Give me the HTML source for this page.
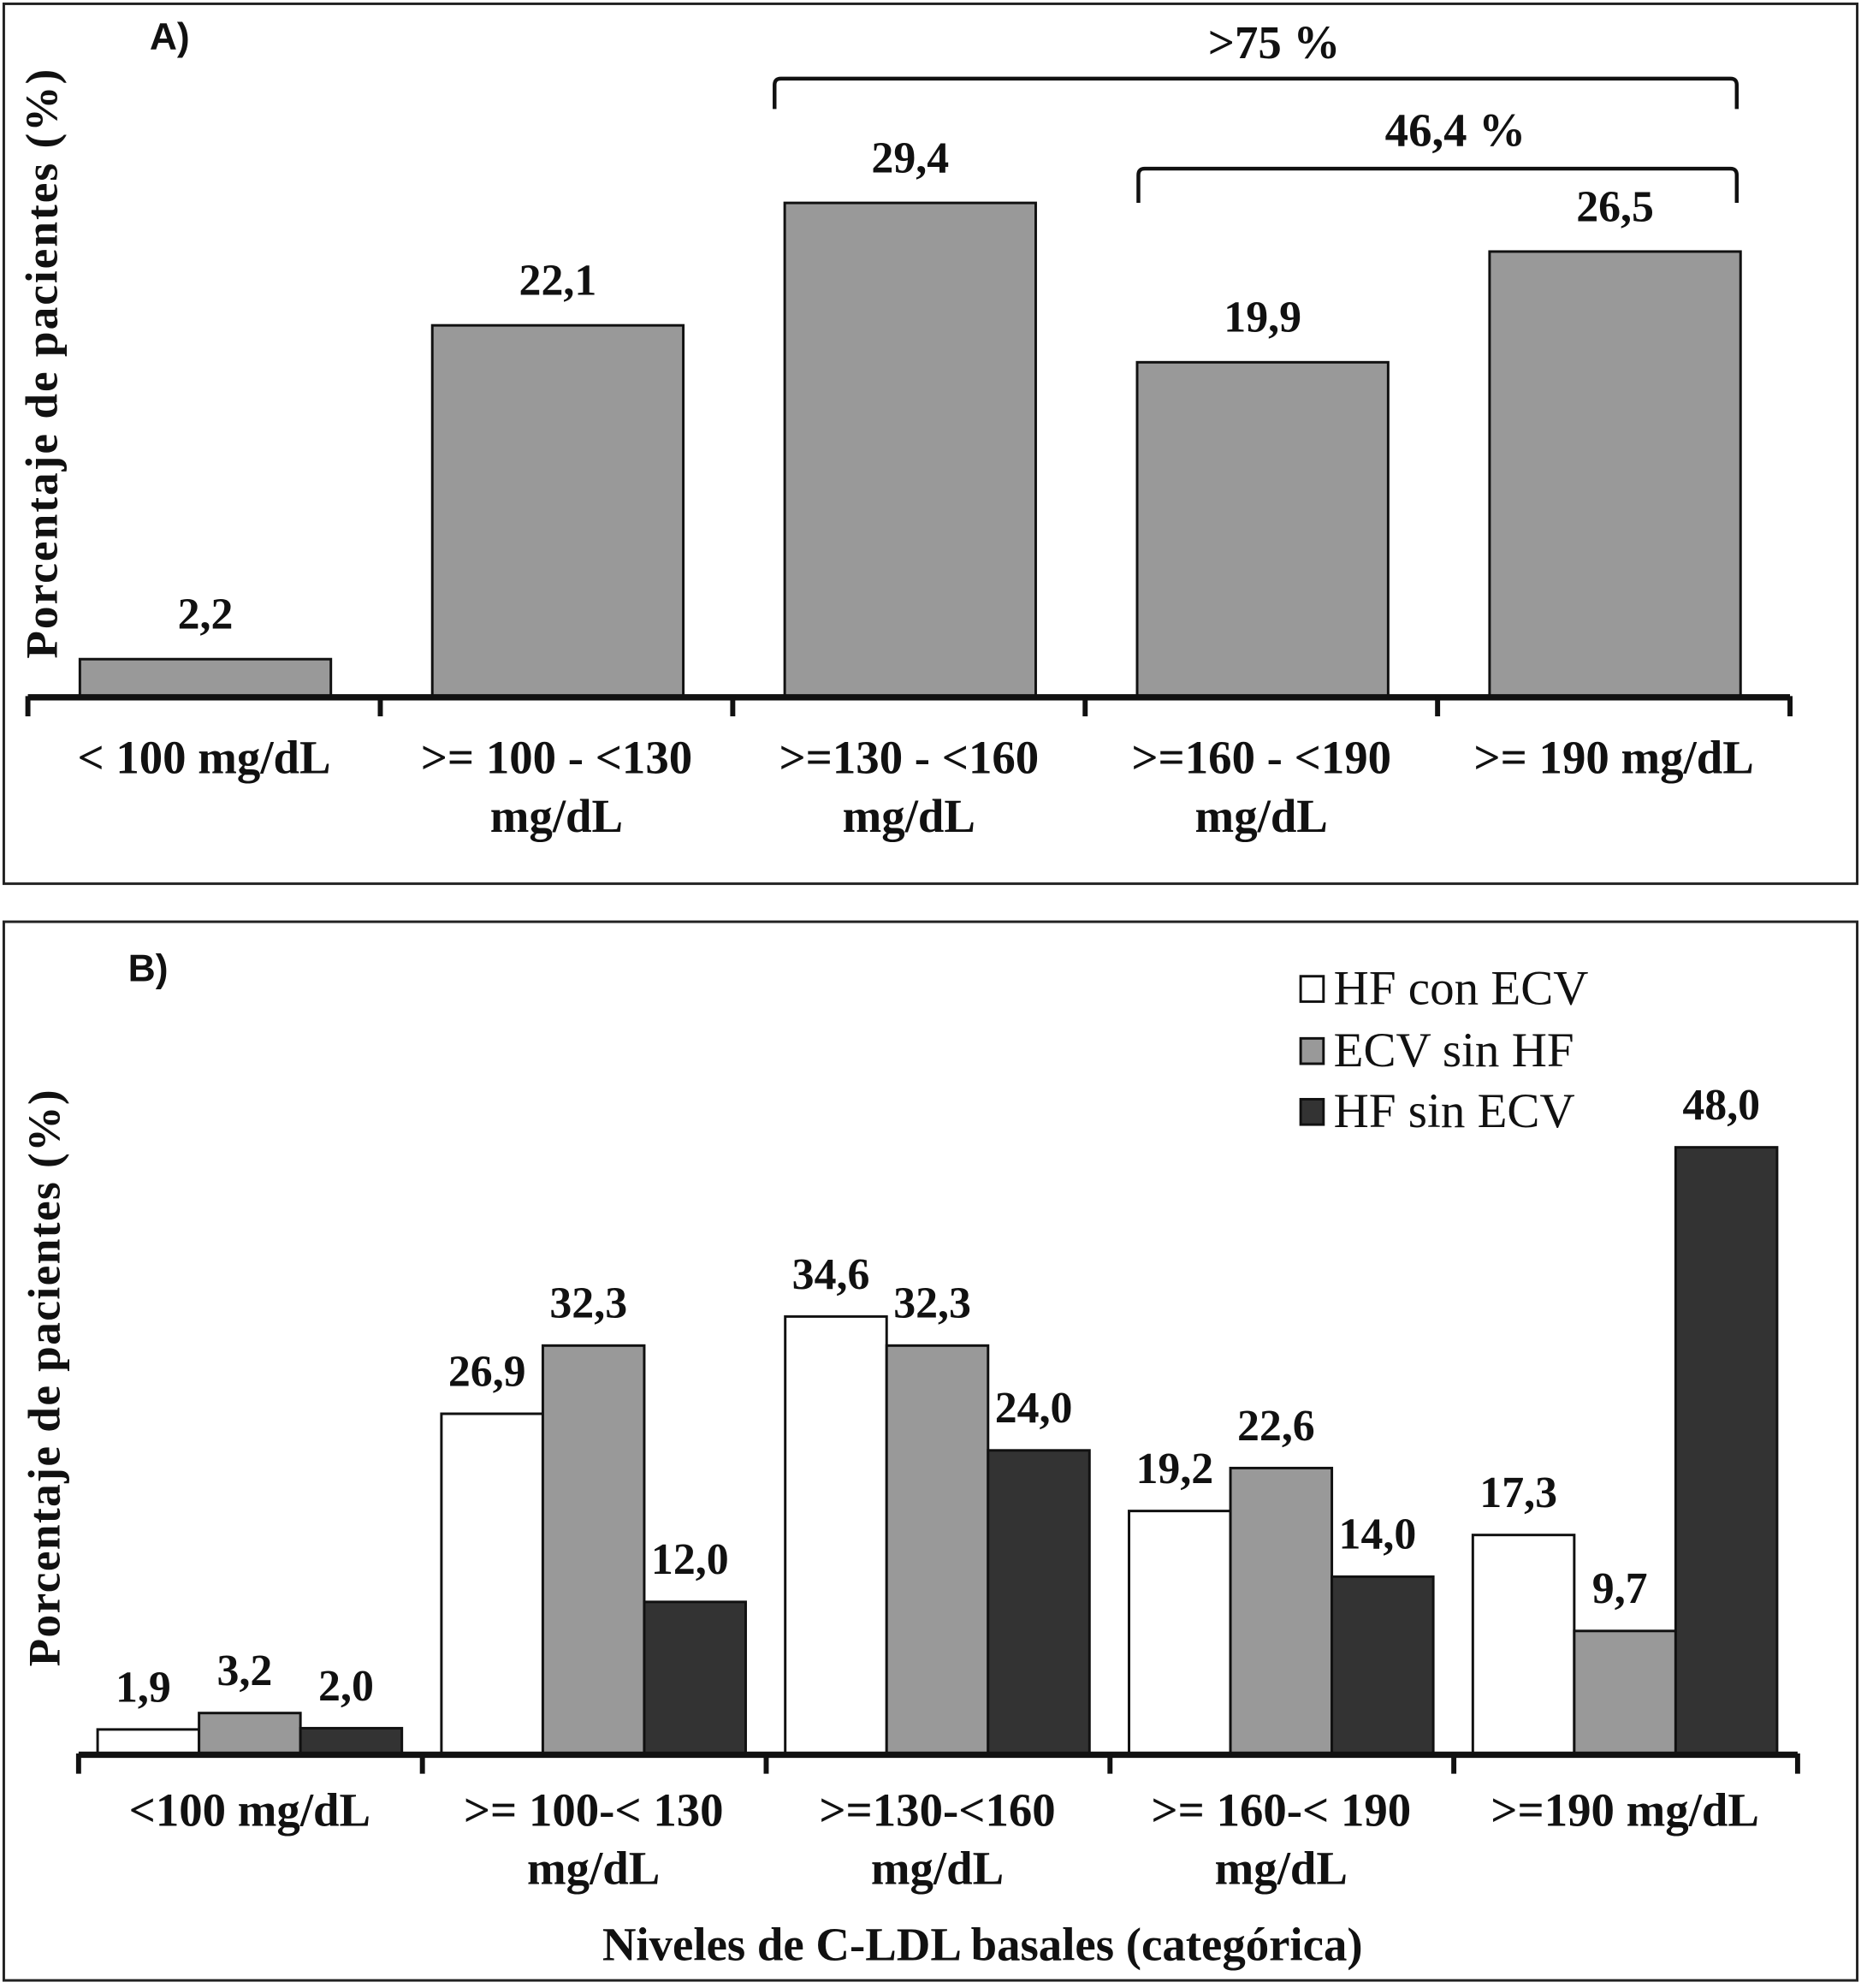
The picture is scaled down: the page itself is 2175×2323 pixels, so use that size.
<!DOCTYPE html>
<html><head><meta charset="utf-8"><style>
html,body{margin:0;padding:0;background:#fff}
svg{display:block}
text{font-family:"Liberation Serif",serif;fill:#111}
</style></head><body>
<svg id="chart" width="2175" height="2323" viewBox="0 0 1468 1568" preserveAspectRatio="none" xmlns="http://www.w3.org/2000/svg">
<rect x="3" y="3" width="1462" height="694" fill="#fff" stroke="#222" stroke-width="2"/>
<rect x="3" y="727" width="1462" height="835" fill="#fff" stroke="#222" stroke-width="2"/>
<text x="118" y="39" style="font-family:'Liberation Sans',sans-serif;font-weight:bold;font-size:30px">A)</text>
<text x="101" y="774" style="font-family:'Liberation Sans',sans-serif;font-weight:bold;font-size:30px">B)</text>
<text transform="translate(45,287) rotate(-90)" text-anchor="middle" font-weight="bold" font-size="36" textLength="465" lengthAdjust="spacing">Porcentaje de pacientes (%)</text>
<text transform="translate(47,1087) rotate(-90)" text-anchor="middle" font-weight="bold" font-size="36" textLength="455" lengthAdjust="spacing">Porcentaje de pacientes (%)</text>
<text x="775" y="1546" text-anchor="middle" font-weight="bold" font-size="37">Niveles de C-LDL basales (categórica)</text>
<g fill="none" stroke="#111" stroke-width="3">
<path d="M611 86 V67 Q611 62 616 62 H1365 Q1370 62 1370 67 V86"/></g>
<text x="1005" y="46" text-anchor="middle" font-weight="bold" font-size="37">&gt;75 %</text>
<g fill="none" stroke="#111" stroke-width="3">
<path d="M898 160 V138 Q898 133 903 133 H1365 Q1370 133 1370 138 V160"/></g>
<text x="1148" y="115" text-anchor="middle" font-weight="bold" font-size="37">46,4 %</text>
<g id="ga"></g><g id="gb"></g>
<g>
<rect x="1026" y="770" width="18" height="20" fill="#fff" stroke="#111" stroke-width="2"/>
<text x="1052" y="792" font-size="38.5">HF con ECV</text>
<rect x="1026" y="819" width="18" height="20" fill="#999" stroke="#111" stroke-width="2"/>
<text x="1052" y="841" font-size="38.5">ECV sin HF</text>
<rect x="1026" y="867" width="18" height="20" fill="#333" stroke="#111" stroke-width="2"/>
<text x="1052" y="889" font-size="38.5">HF sin ECV</text>
</g>
</svg>
<script>
const catsA1 = ["< 100 mg/dL", ">= 100 - <130", ">=130 - <160", ">=160 - <190", ">= 190 mg/dL"];
const catsA2 = ["", "mg/dL", "mg/dL", "mg/dL", ""];
const valuesA = [2.2, 22.1, 29.4, 19.9, 26.5];
const labelsA = ["2,2", "22,1", "29,4", "19,9", "26,5"];
const catsB1 = ["<100 mg/dL", ">= 100-< 130", ">=130-<160", ">= 160-< 190", ">=190 mg/dL"];
const catsB2 = ["", "mg/dL", "mg/dL", "mg/dL", ""];
const seriesHFconECV = [1.9, 26.9, 34.6, 19.2, 17.3];
const seriesECVsinHF = [3.2, 32.3, 32.3, 22.6, 9.7];
const seriesHFsinECV = [2.0, 12.0, 24.0, 14.0, 48.0];
const seriesNames = ["hf-con-ecv", "ecv-sin-hf", "hf-sin-ecv"];
const fmt = v => v.toFixed(1).replace('.', ',');
const NS = "http://www.w3.org/2000/svg";
function mk(p, tag, at, txt) {
  const e = document.createElementNS(NS, tag);
  for (const k in at) e.setAttribute(k, at[k]);
  if (txt !== undefined) e.textContent = txt;
  p.appendChild(e); return e;
}
const aBase = 549, aX0 = 22, aCat = 278, aScale = 13.23;
const axA = v => aBase - v * aScale;
const cxA = i => aX0 + i * aCat;
const ga = document.getElementById('ga');
valuesA.forEach((v, i) => {
  const r = mk(ga, 'rect', {x: cxA(i) + 41, y: axA(v), width: 198, height: aBase - axA(v), fill: '#999', stroke: '#111', 'stroke-width': 2});
  
  
  const t = mk(ga, 'text', {x: cxA(i) + 140, y: axA(v) - 24, 'text-anchor': 'middle', 'font-weight': 'bold', 'font-size': 35}, labelsA[i]);
  
  
  const c1 = mk(ga, 'text', {x: cxA(i) + 139, y: 610, 'text-anchor': 'middle', 'font-weight': 'bold', 'font-size': 37}, catsA1[i]);
  
  
  if (catsA2[i]) {
    const c2 = mk(ga, 'text', {x: cxA(i) + 139, y: 656, 'text-anchor': 'middle', 'font-weight': 'bold', 'font-size': 37}, catsA2[i]);
    
    
  }
});
const axl = mk(ga, 'line', {x1: aX0, x2: aX0 + 5 * aCat, y1: aBase + 1, y2: aBase + 1, stroke: '#111', 'stroke-width': 5});


for (let i = 0; i <= 5; i++) {
  const tk = mk(ga, 'line', {x1: cxA(i), x2: cxA(i), y1: aBase, y2: aBase + 16, stroke: '#111', 'stroke-width': 4});
  
  
}
const bBase = 1383, bX0 = 62, bCat = 271.2, bw = 80, bScale = 9.96;
const ayB = v => bBase - v * bScale;
const cxB = i => bX0 + i * bCat;
const gb = document.getElementById('gb');
const allSeries = [seriesHFconECV, seriesECVsinHF, seriesHFsinECV];
const fills = ['#fff', '#999', '#333'];
allSeries.forEach((s, si) => {
  s.forEach((v, i) => {
    const x = cxB(i) + 15 + si * bw;
    const r = mk(gb, 'rect', {x: x, y: ayB(v), width: bw, height: bBase - ayB(v), fill: fills[si], stroke: '#111', 'stroke-width': 2});
    
    
    const t = mk(gb, 'text', {x: x + bw / 2 - 4, y: ayB(v) - 22, 'text-anchor': 'middle', 'font-weight': 'bold', 'font-size': 35}, fmt(v));
    
    
  });
});
catsB1.forEach((c, i) => {
  const c1 = mk(gb, 'text', {x: cxB(i) + 135, y: 1440, 'text-anchor': 'middle', 'font-weight': 'bold', 'font-size': 37}, c);
  
  
  if (catsB2[i]) {
    const c2 = mk(gb, 'text', {x: cxB(i) + 135, y: 1486, 'text-anchor': 'middle', 'font-weight': 'bold', 'font-size': 37}, catsB2[i]);
    
    
  }
});
const bxl = mk(gb, 'line', {x1: bX0, x2: bX0 + 5 * bCat, y1: bBase + 1, y2: bBase + 1, stroke: '#111', 'stroke-width': 5});


for (let i = 0; i <= 5; i++) {
  const tk = mk(gb, 'line', {x1: cxB(i), x2: cxB(i), y1: bBase, y2: bBase + 16, stroke: '#111', 'stroke-width': 4});
  
  
}
</script>
</body></html>
